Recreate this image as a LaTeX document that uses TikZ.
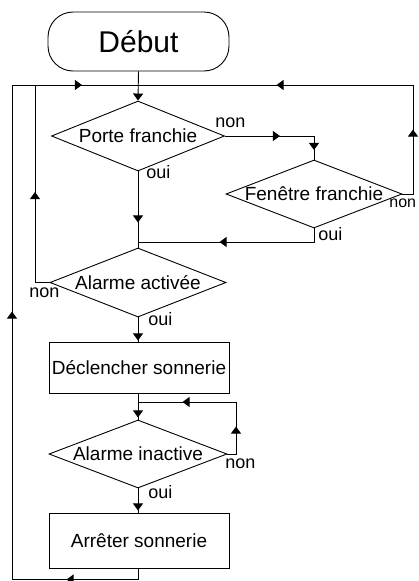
\documentclass[tikz,border=0pt]{standalone}
\usepackage{fontspec}
\setmainfont{Liberation Sans}
\usetikzlibrary{shapes.geometric,arrows.meta,decorations.markings}
\begin{document}
\begin{tikzpicture}[x=1pt,y=-1pt,line width=0.9pt,
  txt/.style={font=\fontsize{19}{22}\selectfont},
  lab/.style={font=\fontsize{18}{22}\selectfont,anchor=base west,inner sep=0pt},
  dec/.style={diamond,draw,inner sep=0pt,minimum width=176pt,minimum height=69pt},
  box/.style={rectangle,draw,inner sep=0pt,minimum width=180pt,font=\fontsize{19}{22}\selectfont},
  ar/.style={postaction={decorate,decoration={markings,mark=at position #1 with {\arrow{Triangle[length=7pt,width=10pt]}}}}},
  endarr/.style={-{Triangle[length=7pt,width=10pt]}}]
\useasboundingbox (0,0) rectangle (419,581);

% nodes
\node[draw,rounded corners=25pt,minimum width=181pt,minimum height=59pt,inner sep=0pt,
      font=\fontsize{30}{34}\selectfont] (debut) at (138.5,41.5) {Début};
\node[dec,minimum width=173pt,minimum height=70pt,label={[name=tporte,txt]center:Porte franchie}] (porte) at (138,136) {};
\node[dec,minimum width=176pt,minimum height=68pt,label={[name=tfen,txt]center:Fenêtre franchie}] (fenetre) at (314,194) {};
\node[dec,label={[name=tact,txt]center:Alarme activée}] (activee) at (138,282.5) {};
\node[box,minimum height=51pt] (declencher) at (139,367.5) {Déclencher sonnerie};
\node[dec,minimum width=178pt,minimum height=68pt,label={[name=tinact,txt]center:Alarme inactive}] (inactive) at (138,454) {};
\node[box,minimum height=55pt] (arreter) at (139,540.5) {Arrêter sonnerie};

% labels
\node[lab] (n1) at (215,127) {non};
\node[lab] (o1) at (146,178) {oui};
\node[lab] (o2) at (318,240) {oui};
\node[lab,font=\fontsize{16}{20}\selectfont] (n2) at (389,207) {non};
\node[lab] (n3) at (29,297) {non};
\node[lab] (o3) at (148,325) {oui};
\node[lab] (n4) at (225,468) {non};
\node[lab] (o4) at (148,498) {oui};

% coordinates
\coordinate (jn) at (138,85);
\coordinate (rt) at (413,85);
\coordinate (rb) at (413,194);
\coordinate (lt) at (35,85);
\coordinate (lb) at (35,282.5);
\coordinate (ot) at (12,85);
\coordinate (ob) at (12,579.5);
\coordinate (bb) at (138,579.5);
\coordinate (j2) at (138,242);
\coordinate (j3) at (138,402);
\coordinate (lr) at (236,454);
\coordinate (lrt) at (236,402);

% connectors
\draw[endarr] (debut.south) -- (porte.north);
\draw[ar=55pt,ar=103pt] (porte.east) -| (fenetre.north);
\draw[ar=75pt,ar=256pt] (fenetre.east) -- (rb) -- (rt) -- (jn);
\draw[ar=51pt] (porte.south) -- (activee.north);
\draw[ar=108pt] (fenetre.south) |- (j2);
\draw[ar=105pt,ar=259pt] (activee.west) -- (lb) -- (lt) -- (jn);
\draw[ar=23pt] (activee.south) -- (activee.south |- declencher.north);
\draw[ar=24pt] (declencher.south -| inactive.north) -- (inactive.north);
\draw[ar=36pt,ar=114pt] (inactive.east) -- (lr) -- (lrt) -- (j3);
\draw[ar=22pt] (inactive.south) -- (inactive.south |- arreter.north);
\draw[ar=82.5pt,ar=405pt] (arreter.south -| inactive.south) -- (bb) -- (ob) -- (ot) -- (lt);
\end{tikzpicture}
\end{document}
